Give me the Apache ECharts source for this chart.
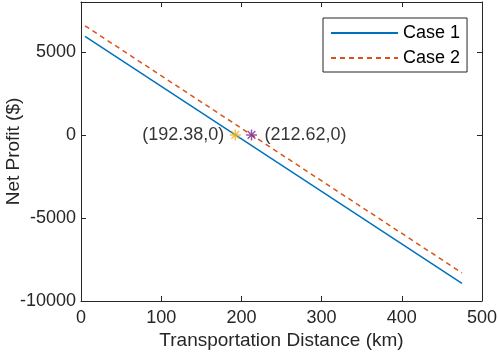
<!DOCTYPE html>
<html><head><meta charset="utf-8">
<script src="https://cdn.jsdelivr.net/npm/echarts@6/dist/echarts.min.js"></script>
<style>html,body{margin:0;padding:0;background:#fff}#c{width:498px;height:352px}</style>
</head><body><div id="c"></div>
<script>
const distance = [5, 475];
const case1 = [5930, -8945];
const case2 = [6570, -8305];
const breakEven1 = [192.38, 0];
const breakEven2 = [212.62, 0];
const xTicks = [0, 100, 200, 300, 400, 500];
const yTicks = [-10000, -5000, 0, 5000];

const chart = echarts.init(document.getElementById('c'));
const FONT = "'Liberation Sans', Arial, sans-serif";
const AX = '#262626';
const star = 'path://M0,-10L0,10M-10,0L10,0M-7.07,-7.07L7.07,7.07M-7.07,7.07L7.07,-7.07';
const xBase = {type:'value', min:0, max:500, interval:100,
  axisLine:{show:true, onZero:false, lineStyle:{color:AX, width:1}},
  axisTick:{show:true, inside:true, length:5, lineStyle:{color:AX}},
  splitLine:{show:false}};
const yBase = {type:'value', min:-10000, max:8000, interval:5000,
  axisLine:{show:true, onZero:false, lineStyle:{color:AX, width:1}},
  axisTick:{show:true, inside:true, length:5, lineStyle:{color:AX}},
  splitLine:{show:false}};
chart.setOption({
  animation:false,
  textStyle:{fontFamily:FONT},
  grid:{left:81, right:16, top:2, bottom:51, containLabel:false, outerBoundsMode:'none'},
  legend:{
    data:['Case 1','Case 2'], orient:'vertical', left:323, top:18,
    backgroundColor:'#fff', borderColor:AX, borderWidth:1, borderRadius:0,
    padding:[6,7,5,7], itemGap:7, itemWidth:67, itemHeight:14,
    itemStyle:{opacity:0},
    textStyle:{fontSize:18, color:'#000', fontFamily:FONT, padding:[0,0,0,0]},
    selectedMode:false
  },
  xAxis:[
    Object.assign({}, xBase, {position:'bottom',
      name:'Transportation Distance (km)', nameLocation:'middle', nameGap:30, nameMoveOverlap:false,
      nameTextStyle:{fontSize:19, color:AX, fontFamily:FONT},
      axisLabel:{fontSize:18, color:AX, margin:8, fontFamily:FONT, formatter:v=>xTicks.includes(v)?String(v):''}}),
    Object.assign({}, xBase, {position:'top', axisLabel:{show:false}})
  ],
  yAxis:[
    Object.assign({}, yBase, {position:'left',
      name:'Net Profit ($)', nameLocation:'middle', nameGap:58, nameMoveOverlap:false,
      nameTextStyle:{fontSize:19, color:AX, fontFamily:FONT},
      axisLabel:{fontSize:18, color:AX, margin:5, fontFamily:FONT, showMaxLabel:false,
        formatter:v=>yTicks.includes(v)?String(v):''}}),
    Object.assign({}, yBase, {position:'right', axisLabel:{show:false}})
  ],
  series:[
    {name:'Case 1', type:'line', data:distance.map((d,i)=>[d,case1[i]]), symbol:'none',
      lineStyle:{color:'#0072BD', width:1.5}, itemStyle:{color:'#0072BD'}},
    {name:'Case 2', type:'line', data:distance.map((d,i)=>[d,case2[i]]), symbol:'none',
      lineStyle:{color:'#D95319', width:1.5, type:[5,4]}, itemStyle:{color:'#D95319'}},
    {name:'BE1', type:'scatter', data:[breakEven1], symbol:star, symbolSize:11, z:5,
      itemStyle:{color:'none', borderColor:'#EDB120', borderWidth:1.5},
      label:{show:true, position:'left', distance:3, fontSize:18, color:'#000', fontFamily:FONT,
        formatter:p=>'('+p.value[0].toFixed(2)+','+p.value[1]+')'}},
    {name:'BE2', type:'scatter', data:[breakEven2], symbol:star, symbolSize:11, z:5,
      itemStyle:{color:'none', borderColor:'#7E2F8E', borderWidth:1.5},
      label:{show:true, position:'right', distance:5, fontSize:18, color:'#000', fontFamily:FONT,
        formatter:p=>'('+p.value[0].toFixed(2)+','+p.value[1]+')'}}
  ]
});
</script></body></html>
